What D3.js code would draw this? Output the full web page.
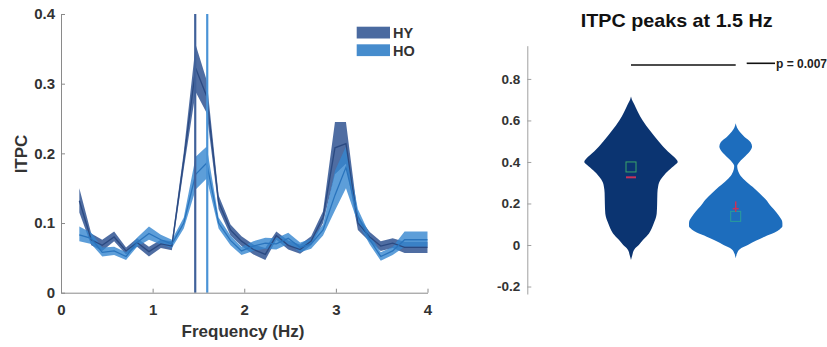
<!DOCTYPE html>
<html><head><meta charset="utf-8">
<script src="https://cdn.jsdelivr.net/npm/d3@7/dist/d3.min.js"></script>
<style>
body{margin:0;background:#fff;}
svg{display:block;font-family:"Liberation Sans",Arial,sans-serif;}
.tk text{font-weight:bold;fill:#333;}
</style></head><body>
<script>
// ---------- data ----------
const freqs = [0.2,0.33,0.45,0.58,0.71,0.83,0.96,1.09,1.21,1.34,1.47,1.59,1.72,1.85,1.97,2.10,2.23,2.35,2.48,2.61,2.73,2.86,2.99,3.11,3.24,3.37,3.49,3.62,3.75,3.87,4.0];
const hyMean = [0.132,0.076,0.068,0.080,0.060,0.072,0.059,0.070,0.067,0.190,0.322,0.282,0.130,0.090,0.074,0.062,0.055,0.082,0.068,0.062,0.074,0.108,0.208,0.214,0.100,0.080,0.067,0.071,0.065,0.065,0.065];
const hyLo   = [0.115,0.068,0.060,0.074,0.055,0.066,0.052,0.064,0.061,0.178,0.288,0.258,0.120,0.082,0.067,0.055,0.047,0.076,0.062,0.056,0.068,0.100,0.170,0.185,0.090,0.073,0.060,0.064,0.057,0.057,0.057];
const hyHi   = [0.150,0.085,0.076,0.088,0.065,0.078,0.066,0.076,0.074,0.202,0.356,0.305,0.140,0.098,0.081,0.069,0.064,0.088,0.075,0.069,0.081,0.117,0.245,0.245,0.110,0.087,0.074,0.078,0.073,0.073,0.073];
const hoMean = [0.083,0.078,0.058,0.060,0.052,0.072,0.085,0.076,0.070,0.100,0.170,0.186,0.100,0.075,0.060,0.067,0.071,0.070,0.078,0.065,0.070,0.090,0.140,0.180,0.110,0.076,0.052,0.060,0.076,0.076,0.076];
const hoLo   = [0.074,0.070,0.052,0.054,0.047,0.066,0.076,0.069,0.064,0.092,0.148,0.164,0.092,0.068,0.054,0.060,0.063,0.062,0.070,0.058,0.063,0.082,0.118,0.150,0.100,0.069,0.046,0.054,0.066,0.066,0.066];
const hoHi   = [0.095,0.086,0.065,0.066,0.058,0.079,0.095,0.083,0.076,0.108,0.195,0.210,0.108,0.082,0.066,0.074,0.079,0.078,0.086,0.072,0.077,0.098,0.175,0.210,0.120,0.083,0.058,0.066,0.088,0.088,0.088];
const peakFreqs = [1.465, 1.596];
const groups = ["HY","HO"];
const xTicks = [0,1,2,3,4];
const xTickLabels = ["0","1","2","3","4"];
const yTicks = [0,0.1,0.2,0.3,0.4];
const yTickLabels = ["0","0.1","0.2","0.3","0.4"];

// violin density profiles (value, relative density)
const v1Vals = [-0.072,-0.05,-0.02,0.0,0.025,0.056,0.1,0.15,0.2,0.25,0.28,0.3,0.33,0.36,0.385,0.4,0.415,0.45,0.5,0.55,0.6,0.64,0.68,0.70,0.715];
const v1Dens = [0,0.026,0.075,0.167,0.26,0.385,0.48,0.55,0.56,0.565,0.58,0.60,0.685,0.81,0.94,1.0,0.96,0.79,0.59,0.41,0.25,0.15,0.064,0.02,0];
const v2Vals = [-0.064,-0.04,-0.02,0.0,0.02,0.04,0.06,0.075,0.09,0.105,0.12,0.136,0.16,0.185,0.22,0.249,0.28,0.313,0.34,0.365,0.38,0.395,0.42,0.45,0.474,0.495,0.52,0.545,0.565,0.586];
const v2Dens = [0,0.03,0.086,0.26,0.43,0.62,0.835,0.94,1.0,1.0,0.985,0.94,0.86,0.76,0.64,0.51,0.36,0.19,0.086,0.04,0.032,0.064,0.17,0.30,0.35,0.32,0.19,0.086,0.03,0];
const vMeans = [0.376, 0.138];
const vMedians = [0.326, 0.175];
const rTicks = [-0.2,0,0.2,0.4,0.6,0.8];
const rTickLabels = ["-0.2","0","0.2","0.4","0.6","0.8"];
const pText = "p = 0.007";
const title = "ITPC peaks at 1.5 Hz";

// ---------- drawing ----------
const W = 827, H = 347;
const svg = d3.select("body").append("svg").attr("width", W).attr("height", H);

const x = d3.scaleLinear().domain([0,4]).range([61,427.5]);
const y = d3.scaleLinear().domain([0,0.4]).range([292.7,14]);

const hyFill = "#3c5d98", hoFill = "#3586cf";

function band(lo, hi){
  return d3.area().x((d,i)=>x(freqs[i])).y0((d,i)=>y(lo[i])).y1((d,i)=>y(hi[i]))(freqs);
}
function line(m){
  return d3.line().x((d,i)=>x(freqs[i])).y((d,i)=>y(m[i]))(freqs);
}
svg.append("path").attr("d", band(hyLo,hyHi)).attr("fill", hyFill).attr("fill-opacity",0.9);
svg.append("path").attr("d", band(hoLo,hoHi)).attr("fill", hoFill).attr("fill-opacity",0.8);
svg.append("path").attr("d", line(hyMean)).attr("fill","none").attr("stroke","#2b4a82").attr("stroke-width",1.3);
svg.append("path").attr("d", line(hoMean)).attr("fill","none").attr("stroke","#2a74bd").attr("stroke-width",1.3);

const vcol = ["#40619a", "#4a93d6"];
peakFreqs.forEach((f,i)=>{
  svg.append("line").attr("x1",x(f)).attr("x2",x(f)).attr("y1",y(0.4)).attr("y2",y(0))
    .attr("stroke",vcol[i]).attr("stroke-width",2.2);
});

// axes
const gx = svg.append("g").attr("class","tk").attr("transform",`translate(0,${y(0)})`)
  .call(d3.axisBottom(x).tickValues(xTicks).tickFormat((d,i)=>xTickLabels[i]).tickSize(-4).tickSizeOuter(0).tickPadding(12));
const gy = svg.append("g").attr("class","tk").attr("transform",`translate(${x(0)},0)`)
  .call(d3.axisLeft(y).tickValues(yTicks).tickFormat((d,i)=>yTickLabels[i]).tickSize(-4).tickSizeOuter(0).tickPadding(6));
[gx,gy].forEach(g=>{
  g.selectAll("text").style("font-size","15px");
  g.select(".domain").attr("stroke","#8a8a8a");
  g.selectAll(".tick line").attr("stroke","#8a8a8a");
});

svg.append("text").attr("x",243).attr("y",337).attr("text-anchor","middle")
  .style("font-size","17px").style("font-weight","bold").attr("fill","#333").text("Frequency (Hz)");
svg.append("text").attr("transform","translate(27,154) rotate(-90)").attr("text-anchor","middle")
  .style("font-size","17px").style("font-weight","bold").attr("fill","#333").text("ITPC");

// legend
const legFill = ["#4a6aa0", "#468ccd"];
groups.forEach((g,i)=>{
  const yy = 26.7 + i*17.6;
  svg.append("rect").attr("x",356.7).attr("y",yy).attr("width",33.3).attr("height",11.8).attr("fill",legFill[i]);
  svg.append("text").attr("x",393).attr("y",yy+11.5).style("font-size","14.5px").style("font-weight","bold")
    .attr("fill","#333").text(g);
});

// ---------- right panel ----------
const rx = d3.scaleLinear().domain([1,2]).range([631,735.7]);
const ry = d3.scaleLinear().domain([-0.236,0.96]).range([294,45.7]);
const rw = d3.scaleLinear().domain([0,1]).range([0,46.7]);

const violinCols = ["#0b3471", "#1d6dbd"];
const profiles = [[v1Vals,v1Dens],[v2Vals,v2Dens]];
profiles.forEach(([vals,dens],k)=>{
  const cx = rx(k+1);
  const area = d3.area().curve(d3.curveMonotoneY)
    .y((d,i)=>ry(vals[i])).x0((d,i)=>cx - rw(dens[i])).x1((d,i)=>cx + rw(dens[i]));
  svg.append("path").attr("d", area(vals)).attr("fill", violinCols[k]);
});
// mean squares & median marks
const sqCols = ["#3aa46a", "#2a9d9a"];
vMeans.forEach((m,k)=>{
  const cx = rx(k+1);
  svg.append("rect").attr("x",cx-5).attr("y",ry(m)-5).attr("width",10).attr("height",10)
    .attr("fill","none").attr("stroke",sqCols[k]).attr("stroke-width",1);
});
svg.append("line").attr("x1",rx(1)-5).attr("x2",rx(1)+5).attr("y1",ry(vMedians[0])).attr("y2",ry(vMedians[0]))
  .attr("stroke","#c8325a").attr("stroke-width",2);
svg.append("line").attr("x1",rx(2)).attr("x2",rx(2)).attr("y1",ry(0.21)).attr("y2",ry(0.16))
  .attr("stroke","#c8325a").attr("stroke-width",1.5);
svg.append("line").attr("x1",rx(2)-3).attr("x2",rx(2)+3).attr("y1",ry(vMedians[1])).attr("y2",ry(vMedians[1]))
  .attr("stroke","#c8325a").attr("stroke-width",1.5);

const gr = svg.append("g").attr("class","tk").attr("transform",`translate(527.3,0)`)
  .call(d3.axisLeft(ry).tickValues(rTicks).tickFormat((d,i)=>rTickLabels[i]).tickSize(-4).tickSizeOuter(0).tickPadding(7));
gr.selectAll("text").style("font-size","13.5px").attr("fill","#444");
gr.select(".domain").attr("stroke","#a0a0a0");
gr.selectAll(".tick line").attr("stroke","#a0a0a0");

svg.append("text").attr("x",676.7).attr("y",27).attr("text-anchor","middle")
  .attr("textLength",192).attr("lengthAdjust","spacingAndGlyphs")
  .style("font-size","19px").style("font-weight","bold").attr("fill","#111").text(title);

// significance
svg.append("line").attr("x1",rx(1)).attr("x2",rx(2)).attr("y1",65).attr("y2",65).attr("stroke","#111").attr("stroke-width",1.6);
svg.append("line").attr("x1",746.7).attr("x2",775).attr("y1",63.3).attr("y2",63.3).attr("stroke","#111").attr("stroke-width",1.6);
svg.append("text").attr("x",776).attr("y",68).style("font-size","12px").style("font-weight","bold").attr("fill","#222").text(pText);
</script>
</body></html>
